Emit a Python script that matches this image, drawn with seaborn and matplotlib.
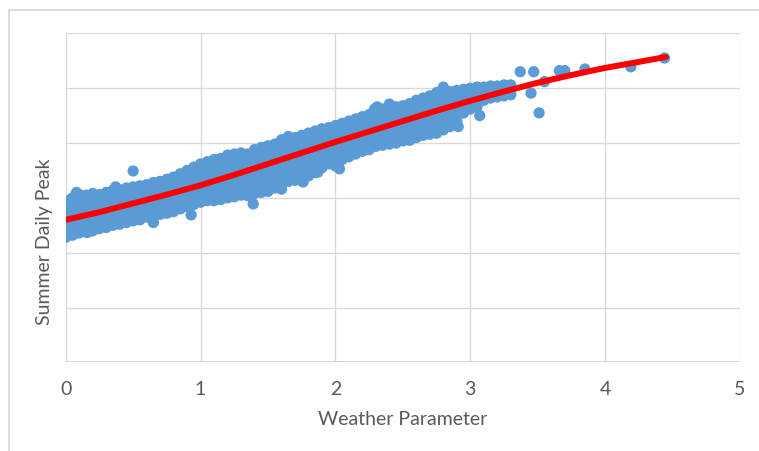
import numpy as np
import pandas as pd
import seaborn as sns
import matplotlib.pyplot as plt
from matplotlib.patches import Rectangle

# weather parameter positions of the dense band, one per column of points
band_x = [0.00, 0.02, 0.05, 0.10, 0.15, 0.20, 0.25, 0.30, 0.35, 0.40,
          0.45, 0.50, 0.55, 0.60, 0.65, 0.70, 0.75, 0.80, 0.85, 0.90,
          0.95, 1.00, 1.05, 1.10, 1.15, 1.20, 1.25, 1.30, 1.35, 1.40,
          1.45, 1.50, 1.55, 1.60, 1.65, 1.70, 1.75, 1.80, 1.85, 1.90,
          1.95, 2.00, 2.05, 2.10, 2.15, 2.20, 2.25, 2.30, 2.35, 2.40,
          2.45, 2.50, 2.55, 2.60, 2.65, 2.70, 2.75, 2.80, 2.85, 2.90,
          2.95, 3.00, 3.05, 3.10, 3.15, 3.20, 3.25, 3.30]

# summer daily peak values
band_peak = [
    [2.28, 2.40, 2.52, 2.64, 2.77, 2.90],
    [2.33, 2.45, 2.58, 2.70, 2.82, 2.95],
    [2.32, 2.44, 2.57, 2.71, 2.86, 3.00],
    [2.36, 2.49, 2.62, 2.77, 2.92, 3.06],
    [2.38, 2.50, 2.64, 2.79, 2.93, 3.05],
    [2.40, 2.53, 2.68, 2.82, 2.95, 3.08],
    [2.44, 2.56, 2.70, 2.83, 2.95, 3.06],
    [2.46, 2.58, 2.72, 2.86, 2.98, 3.10],
    [2.50, 2.62, 2.75, 2.89, 3.02, 3.14],
    [2.52, 2.64, 2.77, 2.91, 3.04, 3.15],
    [2.55, 2.67, 2.80, 2.94, 3.06, 3.18],
    [2.58, 2.70, 2.82, 2.96, 3.08, 3.20],
    [2.60, 2.72, 2.85, 2.98, 3.10, 3.22],
    [2.65, 2.76, 2.88, 3.00, 3.12, 3.24],
    [2.66, 2.78, 2.91, 3.04, 3.16, 3.28],
    [2.70, 2.82, 2.94, 3.06, 3.18, 3.30],
    [2.72, 2.84, 2.97, 3.10, 3.22, 3.34],
    [2.75, 2.87, 3.00, 3.13, 3.26, 3.38],
    [2.80, 2.92, 3.05, 3.18, 3.31, 3.44],
    [2.84, 2.97, 3.10, 3.24, 3.37, 3.50],
    [2.88, 3.01, 3.14, 3.28, 3.42, 3.56],
    [2.92, 3.05, 3.19, 3.33, 3.48, 3.62],
    [2.95, 3.09, 3.23, 3.37, 3.52, 3.66],
    [2.95, 3.10, 3.25, 3.40, 3.55, 3.70],
    [2.97, 3.12, 3.27, 3.42, 3.57, 3.72],
    [3.00, 3.15, 3.31, 3.47, 3.62, 3.78],
    [3.02, 3.18, 3.33, 3.49, 3.65, 3.80],
    [3.05, 3.20, 3.36, 3.51, 3.67, 3.82],
    [3.04, 3.20, 3.36, 3.52, 3.66, 3.80],
    [3.08, 3.24, 3.40, 3.56, 3.72, 3.88],
    [3.10, 3.26, 3.43, 3.59, 3.76, 3.92],
    [3.12, 3.29, 3.45, 3.62, 3.79, 3.95],
    [3.18, 3.34, 3.50, 3.66, 3.82, 3.98],
    [3.25, 3.41, 3.57, 3.74, 3.90, 4.06],
    [3.30, 3.46, 3.62, 3.79, 3.96, 4.12],
    [3.32, 3.48, 3.64, 3.79, 3.95, 4.10],
    [3.34, 3.50, 3.66, 3.82, 3.98, 4.14],
    [3.40, 3.56, 3.71, 3.87, 4.02, 4.18],
    [3.46, 3.61, 3.76, 3.92, 4.07, 4.22],
    [3.55, 3.69, 3.83, 3.98, 4.12, 4.26],
    [3.62, 3.75, 3.88, 4.02, 4.15, 4.28],
    [3.65, 3.78, 3.92, 4.05, 4.19, 4.32],
    [3.70, 3.83, 3.96, 4.10, 4.23, 4.36],
    [3.75, 3.88, 4.01, 4.14, 4.27, 4.40],
    [3.80, 3.93, 4.05, 4.18, 4.31, 4.44],
    [3.85, 3.98, 4.10, 4.23, 4.35, 4.48],
    [3.88, 4.01, 4.14, 4.26, 4.39, 4.52],
    [3.94, 4.06, 4.19, 4.32, 4.45, 4.58],
    [3.96, 4.09, 4.22, 4.36, 4.49, 4.62],
    [3.98, 4.11, 4.24, 4.38, 4.51, 4.64],
    [4.00, 4.13, 4.26, 4.40, 4.53, 4.66],
    [4.04, 4.17, 4.30, 4.42, 4.55, 4.68],
    [4.05, 4.18, 4.32, 4.45, 4.59, 4.72],
    [4.10, 4.23, 4.37, 4.50, 4.64, 4.78],
    [4.14, 4.28, 4.41, 4.55, 4.68, 4.82],
    [4.16, 4.30, 4.44, 4.58, 4.72, 4.86],
    [4.18, 4.33, 4.48, 4.62, 4.77, 4.92],
    [4.24, 4.38, 4.52, 4.66, 4.80, 4.94],
    [4.30, 4.43, 4.55, 4.68, 4.81, 4.94],
    [4.40, 4.52, 4.63, 4.74, 4.85, 4.96],
    [4.55, 4.64, 4.73, 4.82, 4.90, 4.98],
    [4.62, 4.70, 4.78, 4.86, 4.93, 5.00],
    [4.66, 4.74, 4.82, 4.89, 4.96, 5.02],
    [4.78, 4.86, 4.94, 5.02],
    [4.82, 4.90, 4.97, 5.04],
    [4.84, 4.91, 4.98, 5.04],
    [4.86, 4.93, 5.00, 5.06],
    [4.88, 4.95, 5.01, 5.06],
]

# stray points sticking out of the band
stray_x = [0.08, 0.16, 0.37, 0.50, 0.65, 0.93, 1.39, 1.60, 1.76, 1.87,
           2.00, 2.03, 2.29, 2.31, 2.40, 2.65, 2.80, 2.91, 3.07, 3.37,
           3.45, 3.47, 3.51, 3.55, 3.66, 3.70, 3.85, 4.19, 4.44]
stray_peak = [3.10, 2.37, 3.20, 3.49, 2.55, 2.69, 2.89, 3.16, 3.29, 3.47,
              3.58, 3.53, 4.62, 4.66, 4.71, 4.17, 5.02, 4.30, 4.50, 5.30,
              4.91, 5.30, 4.55, 5.12, 5.32, 5.32, 5.35, 5.39, 5.55]

# polynomial trendline
trend_x = [0.00, 0.25, 0.50, 0.75, 1.00, 1.25, 1.50, 1.75, 2.00, 2.25,
           2.50, 2.75, 3.00, 3.25, 3.50, 3.75, 4.00, 4.25, 4.45]
trend_peak = [2.60, 2.74, 2.90, 3.06, 3.23, 3.42, 3.62, 3.82, 4.02, 4.21,
              4.40, 4.59, 4.77, 4.94, 5.10, 5.24, 5.37, 5.48, 5.57]

xs, ys = [], []
for x, col in zip(band_x, band_peak):
    xs += [x] * len(col)
    ys += col
xs += stray_x
ys += stray_peak
df = pd.DataFrame({'weather': xs, 'peak': ys})
trend = pd.DataFrame({'weather': trend_x, 'peak': trend_peak})

sns.set_theme(style='whitegrid', rc={'grid.color': '#D9D9D9', 'grid.linewidth': 1.0,
                                     'axes.edgecolor': '#D9D9D9'})
plt.rcParams['font.family'] = ['Lato', 'DejaVu Sans']

fig = plt.figure(figsize=(7.59, 4.52), dpi=100)
ax = fig.add_axes([0.0866, 0.196, 0.8884, 0.728])

sns.scatterplot(data=df, x='weather', y='peak', ax=ax, color='#5B9BD5',
                s=66, linewidth=0, edgecolor='none', alpha=1, zorder=3, legend=False)
sns.lineplot(data=trend, x='weather', y='peak', ax=ax, color='#FF0000',
             linewidth=4.3, zorder=4, solid_capstyle='round', solid_joinstyle='round')

ax.set_xlim(0, 5)
ax.set_ylim(0, 6)
ax.set_xticks([0, 1, 2, 3, 4, 5])
ax.set_yticks([0, 1, 2, 3, 4, 5, 6])
ax.set_yticklabels([])
ax.tick_params(axis='x', colors='#595959', labelsize=14, pad=13, length=0)
ax.tick_params(axis='y', length=0, pad=0)
for s in ax.spines.values():
    s.set_visible(False)
ax.axhline(0, color='#D0D0D0', lw=1.2, zorder=1)

ax.set_xlabel('Weather Parameter', fontsize=14, color='#595959', labelpad=9)
ax.set_ylabel('Summer Daily Peak', fontsize=14, color='#595959')
# Excel places this title a bit below the middle of the plot area
ax.yaxis.set_label_coords(-0.019, 0.37)

# outer chart border
fig.patches.append(Rectangle((9 / 759, -0.1), 2, 1 - 11 / 452 + 0.1,
                             transform=fig.transFigure, fill=False,
                             edgecolor='#D9D9D9', lw=1.3))

fig.savefig('out.png', dpi=100, facecolor='white')
